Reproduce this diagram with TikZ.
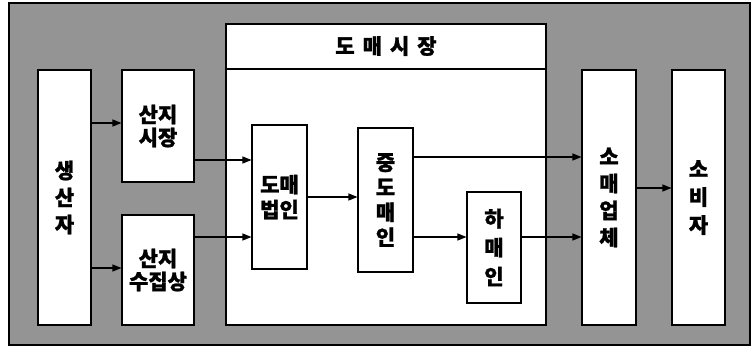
\documentclass[tikz,border=0pt]{standalone}
\usepackage{fontspec}
\setmainfont{Noto Sans CJK KR}[BoldFeatures={FakeBold=1.2}]
\usetikzlibrary{arrows.meta}
\tikzset{
  bx/.style={draw=black, fill=white, line width=1.1pt, inner sep=0pt, font=\fontsize{21}{26}\selectfont\bfseries, align=center},
  arr/.style={draw=black, line width=1.1pt, -{Triangle[length=9pt,width=7pt]}},
  ln/.style={draw=black, line width=1.1pt},
}
\begin{document}
\begin{tikzpicture}[x=1pt,y=-1pt]
\useasboundingbox (0,0) rectangle (753,349);
% gray backdrop
\fill[black!42] (9,3) rectangle (750,345);
\draw[line width=1.2pt] (9,3) rectangle (750,345);
% boxes
\node[bx, minimum width=53pt, minimum height=255pt, font=\fontsize{21}{27}\selectfont\bfseries] (sa) at (64.5,197.5) {생\\산\\자};
\node[bx, minimum width=72pt, minimum height=112pt, font=\fontsize{21}{23}\selectfont\bfseries] (sj) at (158,126) {산지\\시장};
\node[bx, minimum width=72pt, minimum height=110pt, font=\fontsize{21}{23}\selectfont\bfseries] (ss) at (158,270) {산지\\수집상};
\node[bx, minimum width=320pt, minimum height=301pt] (dm) at (386,174.5) {};
\node[font=\fontsize{21}{22}\selectfont\bfseries] (title) at (386,46) {도\hspace{8pt}매\hspace{8pt}시\hspace{8pt}장};
\draw[ln] (dm.west |- 0,69) -- (dm.east |- 0,69);
\node[bx, minimum width=55pt, minimum height=144pt, font=\fontsize{21}{25}\selectfont\bfseries] (db) at (279.5,197) {도매\\법인};
\node[bx, minimum width=55pt, minimum height=144pt, font=\fontsize{21}{25}\selectfont\bfseries] (jd) at (385.5,200) {중\\도\\매\\인};
\node[bx, minimum width=54pt, minimum height=111pt, font=\fontsize{21}{29}\selectfont\bfseries] (hm) at (494,247.5) {하\\매\\인};
\node[bx, minimum width=54pt, minimum height=255pt, font=\fontsize{21}{27}\selectfont\bfseries] (so) at (609,197.5) {소\\매\\업\\체};
\node[bx, minimum width=53pt, minimum height=255pt, font=\fontsize{21}{28}\selectfont\bfseries] (sb) at (698.5,197.5) {소\\비\\자};
% arrows
\draw[arr] (sa.east |- 0,123) -- (sj.west |- 0,123);
\draw[arr] (sa.east |- 0,268) -- (ss.west |- 0,268);
\draw[arr] (sj.east |- 0,160) -- (db.west |- 0,160);
\draw[arr] (ss.east |- 0,237) -- (db.west |- 0,237);
\draw[arr] (db.east |- 0,197) -- (jd.west |- 0,197);
\draw[arr] (jd.east |- 0,157) -- (so.west |- 0,157);
\draw[arr] (jd.east |- 0,237) -- (hm.west |- 0,237);
\draw[arr] (hm.east |- 0,237) -- (so.west |- 0,237);
\draw[arr] (so.east |- 0,188) -- (sb.west |- 0,188);
\end{tikzpicture}
\end{document}
